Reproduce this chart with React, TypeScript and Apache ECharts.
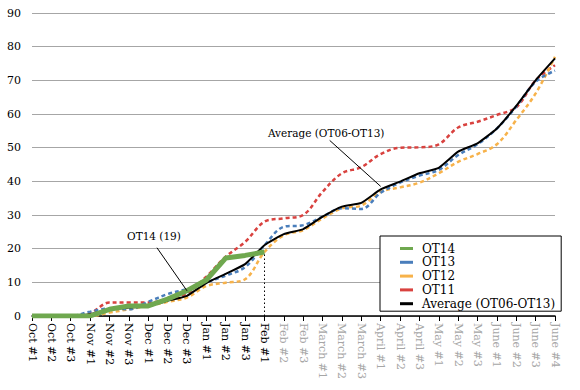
import React, { useEffect, useRef } from "react";
import * as echarts from "echarts";

const categories = [
  "Oct #1", "Oct #2", "Oct #3", "Nov #1", "Nov #2", "Nov #3", "Dec #1", "Dec #2", "Dec #3",
  "Jan #1", "Jan #2", "Jan #3", "Feb #1", "Feb #2", "Feb #3", "March #1", "March #2", "March #3",
  "April #1", "April #2", "April #3", "May #1", "May #2", "May #3", "June #1", "June #2", "June #3", "June #4",
];
const ot14 = [0, 0, 0, 0, 2, 3, 3, 5, 7.5, 10.7, 17.2, 18, 19];
const ot13 = [0, 0, 0, 1.3, 2.2, 2, 4.2, 6.5, 8, 10, 12, 14.5, 21, 26.5, 27, 29.5, 32, 31.8, 36.6, 39.6, 41.7, 43.4, 47.8, 51, 55.7, 62.2, 69.6, 72.9];
const ot12 = [0, 0, 0, 0, 1, 2, 3, 4.2, 5.5, 8.9, 9.9, 10.9, 19, 24, 25.5, 29, 32, 32.8, 36.9, 38.2, 39.6, 42.4, 45.8, 48.1, 51, 58.2, 66.1, 77];
const ot11 = [0, 0, 0, 0.8, 4, 4, 4, 5, 6.7, 11.7, 17.6, 22, 28, 29, 30, 36.9, 42.4, 44.2, 48.1, 50, 50.1, 51, 56, 57.7, 59.7, 62, 70, 74.5];
const average = [0, 0, 0, 0.5, 2, 2.5, 3, 4.5, 6, 9.8, 12.5, 15.4, 21, 24.3, 25.8, 29.5, 32.5, 33.6, 37.6, 39.9, 42.4, 44, 48.8, 51.3, 55.7, 62.4, 70, 76.5];
const yTicks = [0, 10, 20, 30, 40, 50, 60, 70, 80, 90];
const lastActualIndex = 12;

const FONT = "'DejaVu Serif', 'Liberation Serif', serif";
const GREEN = "#6FA84F";
const BLUE = "#4A7EBB";
const ORANGE = "#F7B24A";
const RED = "#D9423F";

export default function App() {
  const ref = useRef<HTMLDivElement>(null);
  useEffect(() => {
    if (!ref.current) return;
    const chart = echarts.init(ref.current, null, { renderer: "svg" });
    const dashed = (name: string, data: number[], color: string) => ({
      name,
      type: "line",
      data,
      smooth: 0.35,
      symbol: "none",
      lineStyle: { color, width: 2.5, type: [4, 3] },
      itemStyle: { color },
      z: 2,
    });
    chart.setOption({
      animation: false,
      textStyle: { fontFamily: FONT },
      grid: { left: 32, right: 25, top: 13, bottom: 74 },
      xAxis: {
        type: "category",
        data: categories,
        boundaryGap: false,
        axisLine: { lineStyle: { color: "#000", width: 1.5 } },
        axisTick: { length: 5, lineStyle: { color: "#000" }, interval: 0 },
        axisLabel: {
          rotate: -90,
          interval: 0,
          margin: 7,
          fontFamily: FONT,
          fontSize: 11,
          color: (_v: string, i: number) => (i > lastActualIndex ? "#a6a6a6" : "#000"),
        },
      },
      yAxis: {
        type: "value",
        min: yTicks[0],
        max: yTicks[yTicks.length - 1],
        interval: 10,
        axisLine: { show: false },
        axisTick: { show: false },
        axisLabel: { fontFamily: FONT, fontSize: 11, color: "#000", margin: 11 },
        splitLine: { lineStyle: { color: "#a6a6a6", width: 1 } },
      },
      legend: {
        orient: "vertical",
        left: 380,
        top: 236,
        width: 175,
        backgroundColor: "#fff",
        borderColor: "#000",
        borderWidth: 1,
        padding: [6, 6, 1, 20],
        itemGap: 0.8,
        itemWidth: 13,
        itemHeight: 3,
        icon: "rect",
        textStyle: { fontFamily: FONT, fontSize: 12, color: "#000", lineHeight: 13, padding: [0, 0, 0, 4] },
        data: ["OT14", "OT13", "OT12", "OT11", "Average (OT06-OT13)"],
      },
      series: [
        dashed("OT11", ot11, RED),
        dashed("OT12", ot12, ORANGE),
        dashed("OT13", ot13, BLUE),
        {
          name: "Average (OT06-OT13)",
          type: "line",
          data: average,
          symbol: "none",
          smooth: 0.15,
          lineStyle: { color: "#000", width: 2 },
          itemStyle: { color: "#000" },
          z: 3,
        },
        {
          name: "OT14",
          type: "line",
          data: ot14,
          symbol: "none",
          lineStyle: { color: GREEN, width: 5 },
          itemStyle: { color: GREEN },
          z: 4,
          markLine: {
            silent: true,
            symbol: "none",
            label: { show: false },
            lineStyle: { color: "#000", type: [1.5, 2.5], width: 1 },
            data: [[
              { coord: [categories[lastActualIndex], 0] },
              { coord: [categories[lastActualIndex], ot14[lastActualIndex]] },
            ]],
          },
        },
      ],
    });
    const p1 = chart.convertToPixel({ gridIndex: 0 }, [8, ot14[8]]) as number[];
    const p2 = chart.convertToPixel({ gridIndex: 0 }, [18.3, 38.5]) as number[];
    chart.setOption({
      graphic: [
        { type: "line", shape: { x1: p1[0] - 30, y1: p1[1] - 43, x2: p1[0], y2: p1[1] }, style: { stroke: "#000", lineWidth: 1 }, z: 10 },
        { type: "text", x: p1[0] - 33, y: p1[1] - 49, style: { text: "OT14 (19)", fontFamily: FONT, fontSize: 10.5, fill: "#000", textAlign: "center", textVerticalAlign: "bottom" }, z: 10 },
        { type: "line", shape: { x1: p2[0] - 51, y1: p2[1] - 46, x2: p2[0], y2: p2[1] }, style: { stroke: "#000", lineWidth: 1 }, z: 10 },
        { type: "text", x: p2[0] - 54.5, y: p2[1] - 48, style: { text: "Average (OT06-OT13)", fontFamily: FONT, fontSize: 10.5, fill: "#000", textAlign: "center", textVerticalAlign: "bottom" }, z: 10 },
      ],
    });
    return () => chart.dispose();
  }, []);
  return <div ref={ref} style={{ position: "fixed", left: 0, top: 0, width: 580, height: 390, background: "#fff" }} />;
}
